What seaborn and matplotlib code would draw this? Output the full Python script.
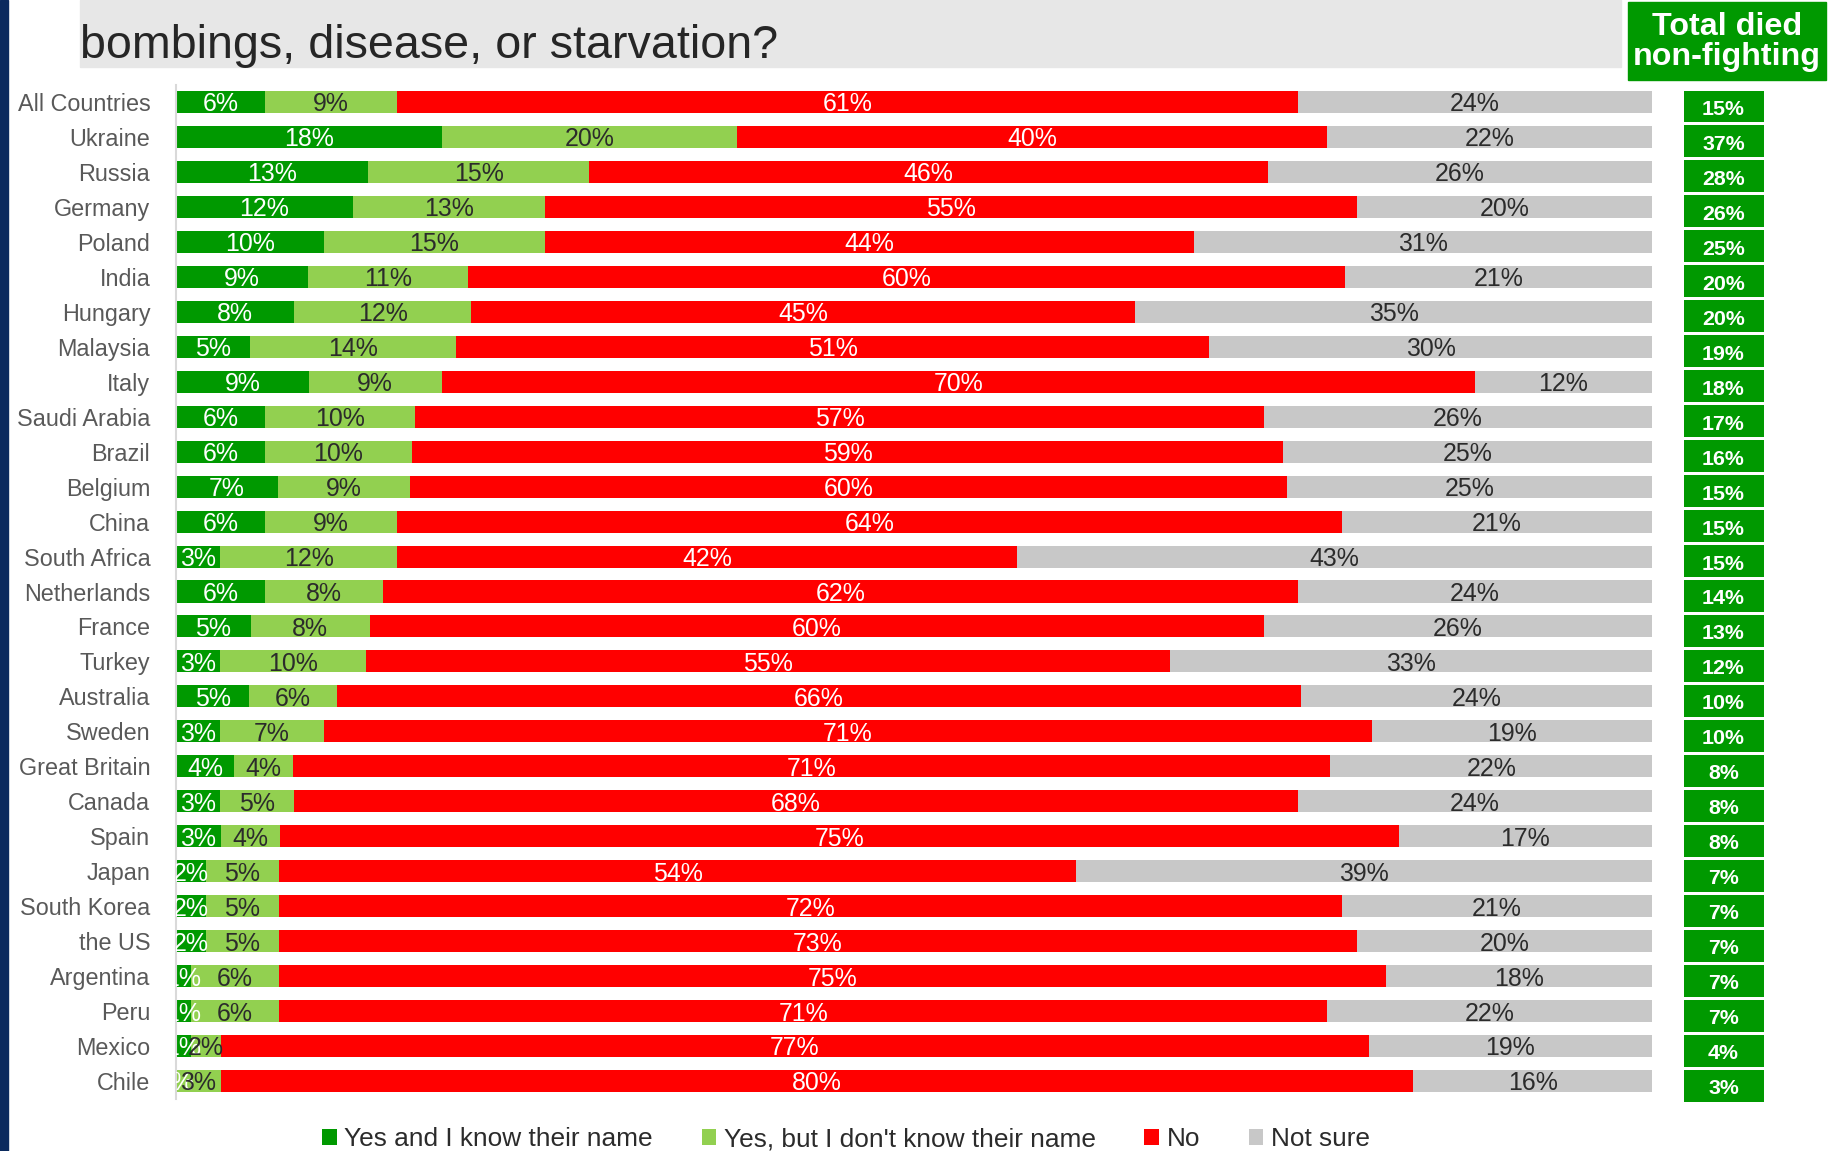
import numpy as np
import pandas as pd
import matplotlib
matplotlib.use("Agg")
import matplotlib.pyplot as plt
import seaborn as sns
from matplotlib import font_manager
from matplotlib.patches import Rectangle, Patch
from matplotlib.colors import ListedColormap

countries = ["All Countries", "Ukraine", "Russia", "Germany", "Poland", "India", "Hungary",
             "Malaysia", "Italy", "Saudi Arabia", "Brazil", "Belgium", "China", "South Africa",
             "Netherlands", "France", "Turkey", "Australia", "Sweden", "Great Britain", "Canada",
             "Spain", "Japan", "South Korea", "the US", "Argentina", "Peru", "Mexico", "Chile"]
yes_know = [6, 18, 13, 12, 10, 9, 8, 5, 9, 6, 6, 7, 6, 3, 6, 5, 3, 5, 3, 4, 3, 3, 2, 2, 2, 1, 1, 1, 0]
yes_dont = [9, 20, 15, 13, 15, 11, 12, 14, 9, 10, 10, 9, 9, 12, 8, 8, 10, 6, 7, 4, 5, 4, 5, 5, 5, 6, 6, 2, 3]
no = [61, 40, 46, 55, 44, 60, 45, 51, 70, 57, 59, 60, 64, 42, 62, 60, 55, 66, 71, 71, 68, 75, 54, 72, 73, 75, 71, 77, 80]
not_sure = [24, 22, 26, 20, 31, 21, 35, 30, 12, 26, 25, 25, 21, 43, 24, 26, 33, 24, 19, 22, 24, 17, 39, 21, 20, 18, 22, 19, 16]
total_died = [15, 37, 28, 26, 25, 20, 20, 19, 18, 17, 16, 15, 15, 15, 14, 13, 12, 10, 10, 8, 8, 8, 7, 7, 7, 7, 7, 4, 3]

series_names = ["Yes and I know their name", "Yes, but I don't know their name", "No", "Not sure"]
title_text = "bombings, disease, or starvation?"
header_text = "Total died\nnon-fighting"

sns.set_theme(style="white")
avail = {f.name for f in font_manager.fontManager.ttflist}
NARROW = "Liberation Sans Narrow" in avail
FONT = "Liberation Sans Narrow" if NARROW else "Liberation Sans"
k = 1.0 if NARROW else 0.82
plt.rcParams["font.family"] = [FONT, "DejaVu Sans"]

W, H = 1828, 1151
fig = plt.figure(figsize=(W / 100, H / 100), dpi=100)

def fx(px):
    return px / W

def fy(py):
    return 1 - py / H

C_DK = "#009900"
C_LT = "#92D050"
C_RED = "#FF0000"
C_GRAY = "#C8C8C8"
colors = [C_DK, C_LT, C_RED, C_GRAY]
txt_colors = ["white", "#2B2B2B", "white", "#2B2B2B"]

df = pd.DataFrame({"country": countries, series_names[0]: yes_know, series_names[1]: yes_dont,
                   series_names[2]: no, series_names[3]: not_sure})
vals = df[series_names]
scaled = vals.div(vals.sum(axis=1), axis=0) * 100
cum = scaled.cumsum(axis=1)

# background decorations
fig.add_artist(Rectangle((0, 0), fx(8), 1, transform=fig.transFigure, color="#0B2A5E", zorder=0))
fig.add_artist(Rectangle((fx(80), fy(67)), fx(1621 - 80), 67 / H, transform=fig.transFigure,
                         color="#E7E7E7", zorder=0))
fig.text(fx(80), fy(58), title_text, fontsize=41 * k, color="#262626", ha="left", va="baseline")
fig.add_artist(Rectangle((fx(1628), fy(80)), fx(1826 - 1628), 78 / H, transform=fig.transFigure,
                         color=C_DK, zorder=0))
fig.text(fx(1727), fy(42), header_text, fontsize=28.3 * k, color="white", fontweight="bold",
         ha="center", va="center", linespacing=1.02)

# main stacked bars
ax = fig.add_axes([fx(176), 1 - 1098.5 / H, fx(1652 - 176), (1098.5 - 84.5) / H])
for seg, col in reversed(list(zip(series_names, colors))):
    sns.barplot(x=cum[seg].values, y=df["country"], order=countries, orient="h", color=col,
                saturation=1, width=0.63, edgecolor="none", linewidth=0, ax=ax)
ax.set_xlim(0, 100)
ax.set_xlabel("")
ax.set_ylabel("")
ax.set_xticks([])
ax.tick_params(axis="y", length=0, pad=18.5, labelsize=20.5 * k, labelcolor="#595959")
for s in ["top", "right", "bottom"]:
    ax.spines[s].set_visible(False)
ax.spines["left"].set_color("#D9D9D9")
ax.spines["left"].set_linewidth(1.5)

for j, seg in enumerate(series_names):
    lefts = cum[seg] - scaled[seg]
    for i in range(len(countries)):
        c = lefts.iloc[i] + scaled[seg].iloc[i] / 2
        t = ax.text(c, i + 0.07, f"{vals[seg].iloc[i]}%", ha="center", va="center",
                    fontsize=21.8 * k, color=txt_colors[j], clip_on=True)
        t.set_clip_box(ax.bbox)

# right column of totals
ax2 = fig.add_axes([fx(1682), 1 - 1102.5 / H, fx(83), (1098.5 - 84.5) / H])
tot_df = pd.DataFrame({"total": total_died}, index=countries)
annot = np.array([[f"{v}%"] for v in total_died])
sns.heatmap(tot_df, ax=ax2, cmap=ListedColormap([C_DK]), cbar=False, annot=annot, fmt="",
            linewidths=2, linecolor="white",
            annot_kws={"fontsize": 18.8 * k, "fontweight": "bold", "color": "white"})
for t in ax2.texts:
    x, y = t.get_position()
    t.set_position((x, y + 0.1))
ax2.set_xticks([])
ax2.set_yticks([])
ax2.set_xlabel("")
ax2.set_ylabel("")

handles = [Patch(facecolor=c, edgecolor="none") for c in colors]
fig.legend(handles, series_names, loc="center", bbox_to_anchor=(fx(846), fy(1139)), ncol=4,
           frameon=False, fontsize=23 * k, labelcolor="#2B2B2B", handlelength=0.55,
           handleheight=0.55, handletextpad=0.3, columnspacing=1.85, borderaxespad=0, borderpad=0)

fig.savefig("out.png", dpi=100)
